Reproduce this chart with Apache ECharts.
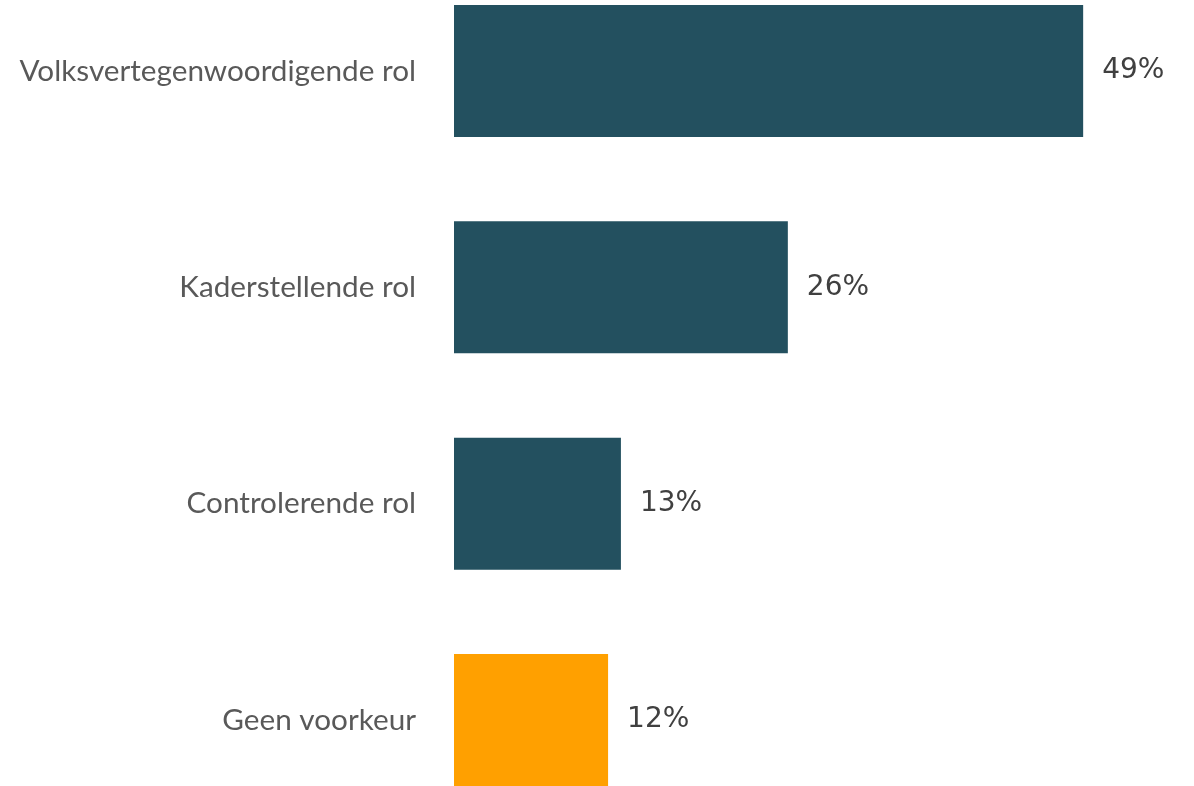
<!DOCTYPE html>
<html>
<head>
<meta charset="utf-8">
<script src="https://cdn.jsdelivr.net/npm/echarts@6/dist/echarts.min.js"></script>
<style>
  html, body { margin: 0; padding: 0; background: #fff; }
  #chart { width: 1194px; height: 786px; }
</style>
</head>
<body>
<div id="chart"></div>
<script>
// categories top to bottom
const categories = ['Volksvertegenwoordigende rol', 'Kaderstellende rol', 'Controlerende rol', 'Geen voorkeur'];
const values = [49, 26, 13, 12];
const barColors = ['#23505F', '#23505F', '#23505F', '#FFA000'];

const chart = echarts.init(document.getElementById('chart'));
chart.setOption({
  animation: false,
  // categories sit on the ticks (boundaryGap false), first at y=71, last at y=720
  grid: { left: 454, top: 71, height: 649, width: 706.2 },
  xAxis: {
    type: 'value',
    min: 0,
    max: 55,
    show: false
  },
  yAxis: {
    type: 'category',
    inverse: true,
    boundaryGap: false,
    data: categories,
    axisLine: { show: false },
    axisTick: { show: false },
    splitLine: { show: false },
    axisLabel: {
      margin: 38,
      fontFamily: 'Lato',
      fontSize: 29.7,
      color: '#595959',
      padding: [0, 0, 8, 0]
    }
  },
  series: [{
    type: 'bar',
    barWidth: 132,
    clip: false,
    data: values.map((v, i) => ({ value: v, itemStyle: { color: barColors[i] } })),
    label: {
      show: true,
      position: 'right',
      distance: 19,
      formatter: '{c}%',
      fontFamily: 'DejaVu Sans',
      fontSize: 28,
      color: '#404040'
    }
  }]
});
</script>
</body>
</html>
